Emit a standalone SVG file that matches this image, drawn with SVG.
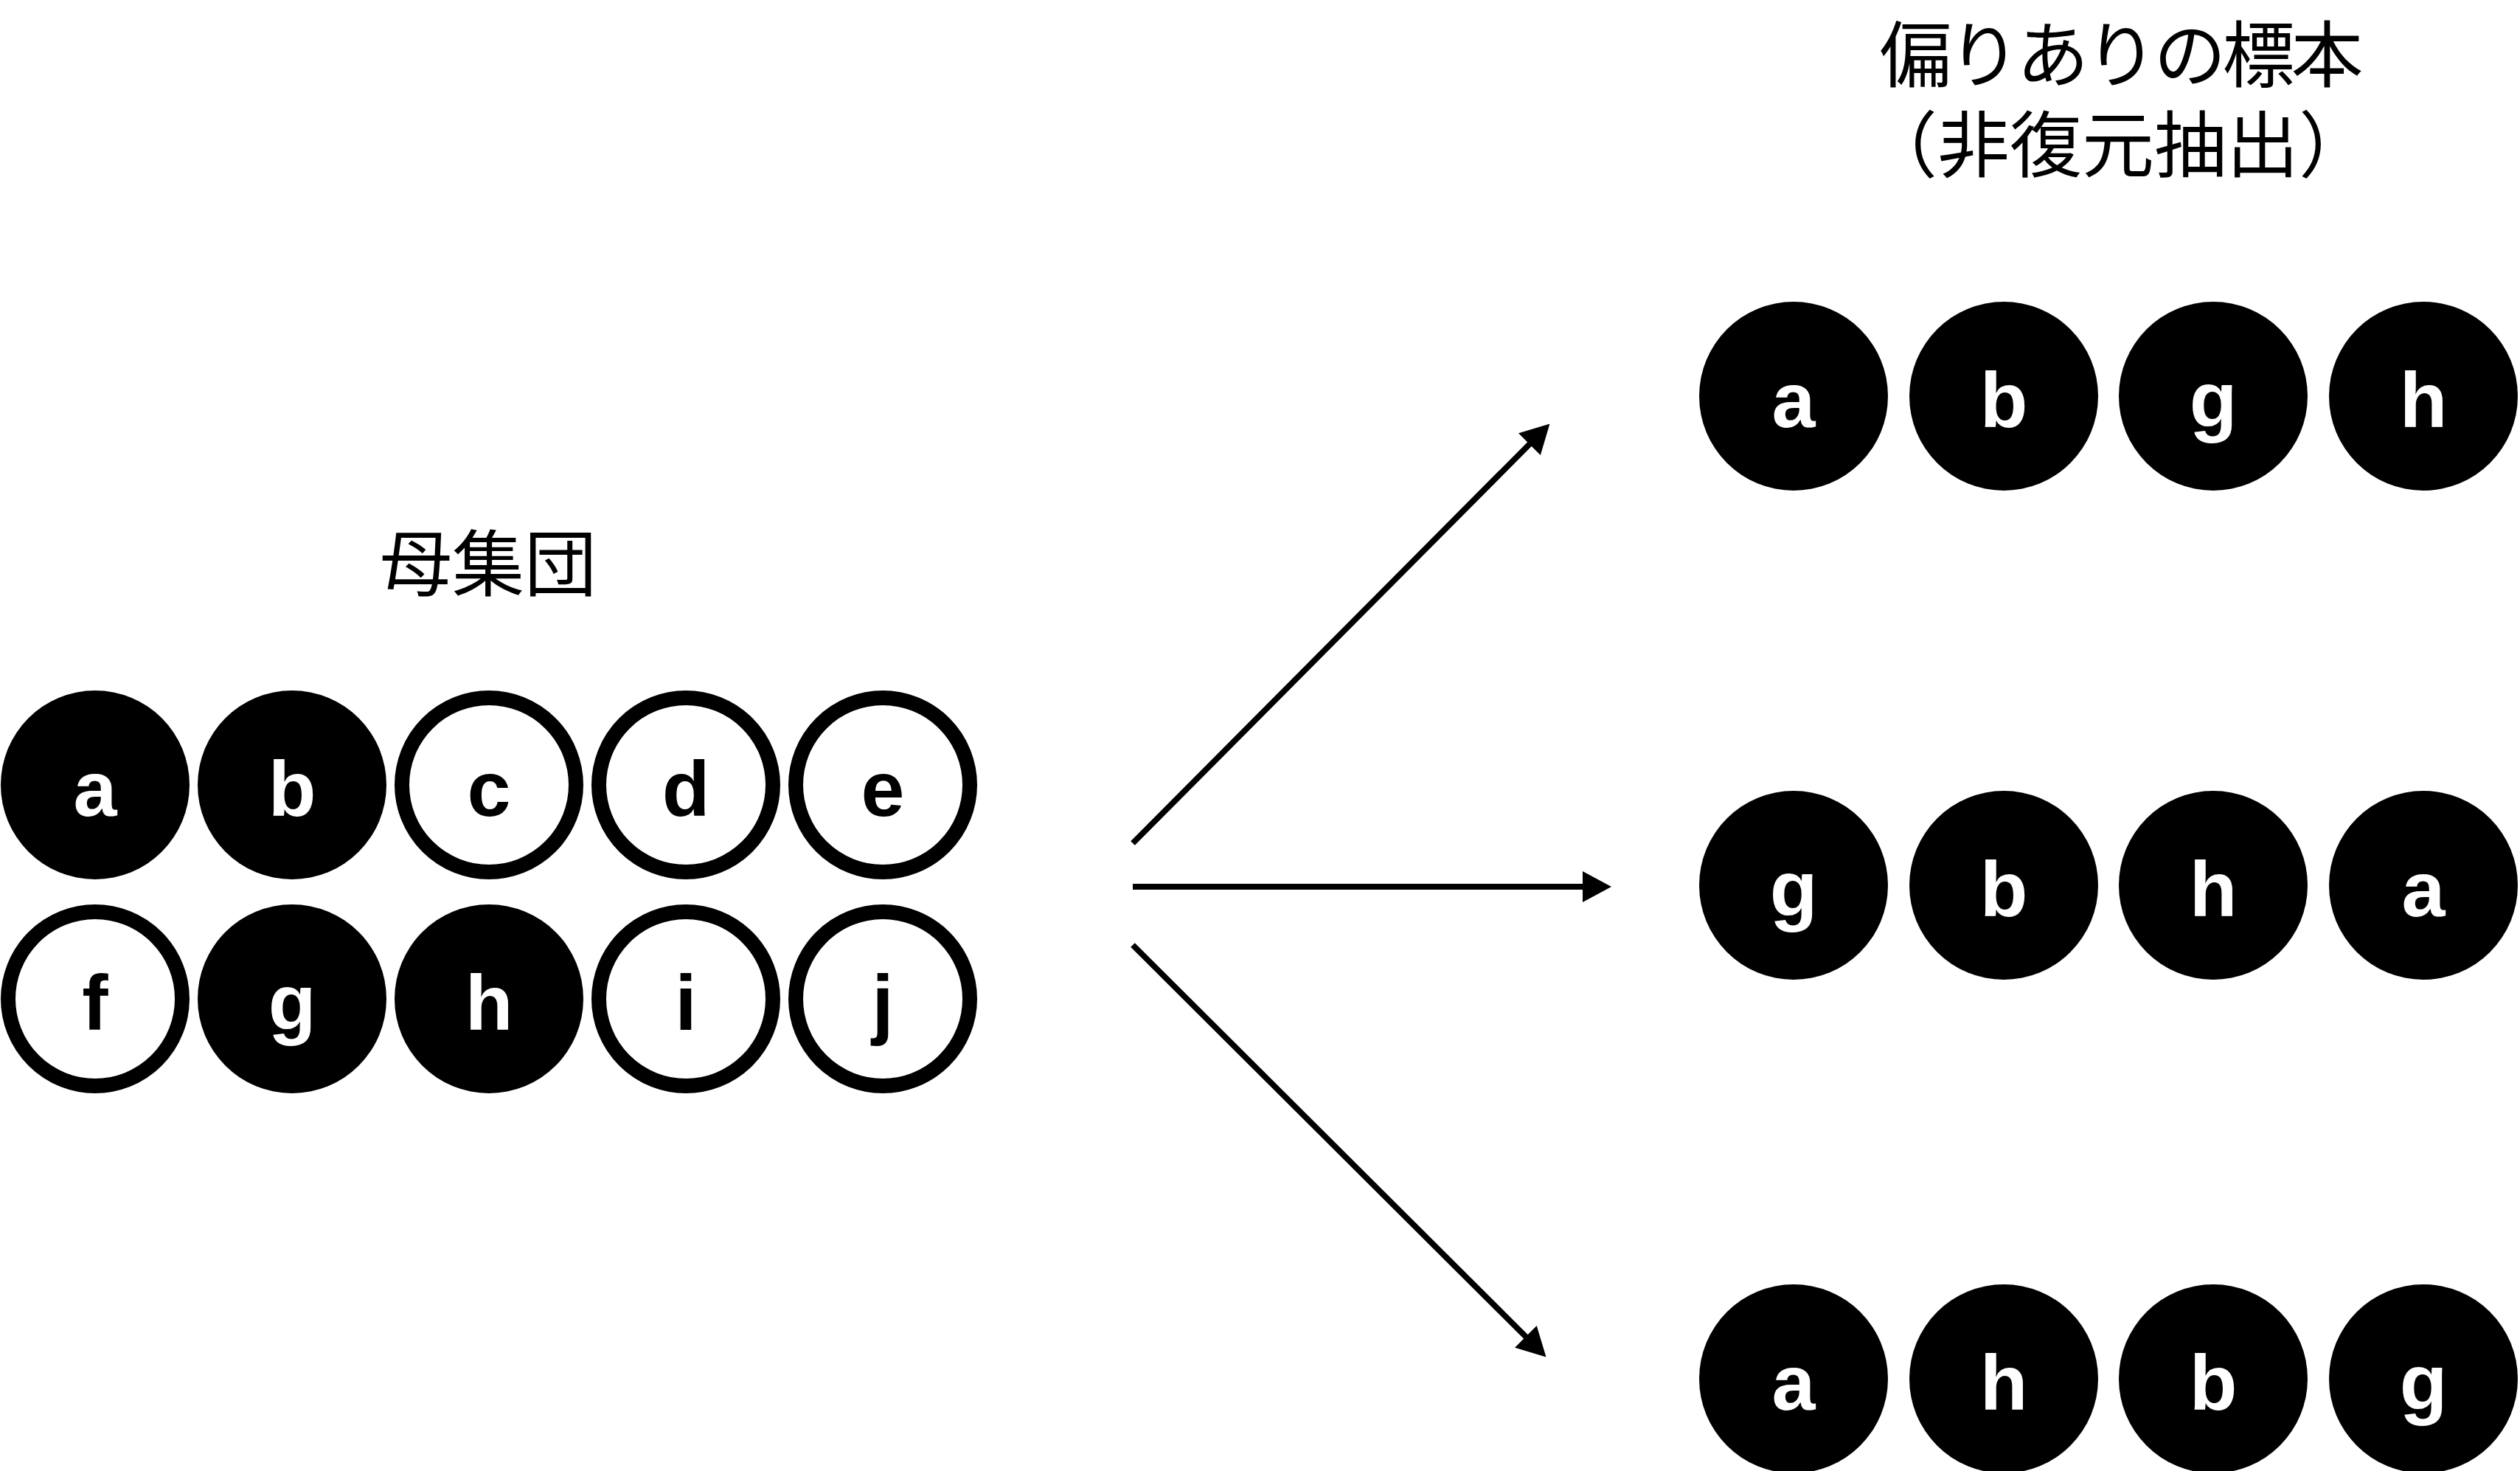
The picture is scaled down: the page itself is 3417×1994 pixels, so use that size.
<svg xmlns="http://www.w3.org/2000/svg" width="3417" height="1994" viewBox="0 0 3417 1994">
<defs>
<style>
.bg{fill:#fff}
.full{fill:#000}
.ring{fill:#fff;stroke:#000;stroke-width:20}
.lt{font-family:"Liberation Sans",Arial,sans-serif;font-weight:bold;font-size:106px;text-anchor:middle}
.w{fill:#fff}
.k{fill:#000}
.title{font-family:"Noto Sans CJK JP","Noto Sans CJK SC",sans-serif;font-size:98px;text-anchor:middle;fill:#000}
.tight{letter-spacing:-5px}
.conn{stroke:#000;stroke-width:8;fill:none;marker-end:url(#ah)}
</style>
<marker id="ah" viewBox="0 0 39 42" refX="20" refY="21" markerWidth="39" markerHeight="42" markerUnits="userSpaceOnUse" orient="auto">
<path d="M0,0 L39,21 L0,42 Z" fill="#000"/>
</marker>
</defs>
<rect class="bg" x="0" y="0" width="3417" height="1994"/>

<g id="title-population"><text class="title" x="662" y="800">母集団</text></g>
<g id="title-sample"><text class="title"><tspan class="tight" x="2874" y="110">偏りありの標本</tspan><tspan x="2872" y="232">（非復元抽出）</tspan></text></g>

<g id="population">
<g id="pop-a"><circle class="full" cx="129" cy="1064" r="128"/><text class="lt w" x="129" y="1106">a</text></g>
<g id="pop-b"><circle class="full" cx="396" cy="1064" r="128"/><text class="lt w" x="396" y="1106">b</text></g>
<g id="pop-c"><circle class="ring" cx="663" cy="1064" r="118"/><text class="lt k" x="663" y="1106">c</text></g>
<g id="pop-d"><circle class="ring" cx="930" cy="1064" r="118"/><text class="lt k" x="930" y="1106">d</text></g>
<g id="pop-e"><circle class="ring" cx="1197" cy="1064" r="118"/><text class="lt k" x="1197" y="1106">e</text></g>
<g id="pop-f"><circle class="ring" cx="129" cy="1354" r="118"/><text class="lt k" x="129" y="1396">f</text></g>
<g id="pop-g"><circle class="full" cx="396" cy="1354" r="128"/><text class="lt w" x="396" y="1396">g</text></g>
<g id="pop-h"><circle class="full" cx="663" cy="1354" r="128"/><text class="lt w" x="663" y="1396">h</text></g>
<g id="pop-i"><circle class="ring" cx="930" cy="1354" r="118"/><text class="lt k" x="930" y="1396">i</text></g>
<g id="pop-j"><circle class="ring" cx="1197" cy="1354" r="118"/><text class="lt k" x="1197" y="1396">j</text></g>
</g>

<g id="sample1">
<g id="s1-a"><circle class="full" cx="2432" cy="537" r="128"/><text class="lt w" x="2432" y="579">a</text></g>
<g id="s1-b"><circle class="full" cx="2717" cy="537" r="128"/><text class="lt w" x="2717" y="579">b</text></g>
<g id="s1-g"><circle class="full" cx="3001" cy="537" r="128"/><text class="lt w" x="3001" y="579">g</text></g>
<g id="s1-h"><circle class="full" cx="3286" cy="537" r="128"/><text class="lt w" x="3286" y="579">h</text></g>
</g>
<g id="sample2">
<g id="s2-g"><circle class="full" cx="2432" cy="1200" r="128"/><text class="lt w" x="2432" y="1242">g</text></g>
<g id="s2-b"><circle class="full" cx="2717" cy="1200" r="128"/><text class="lt w" x="2717" y="1242">b</text></g>
<g id="s2-h"><circle class="full" cx="3001" cy="1200" r="128"/><text class="lt w" x="3001" y="1242">h</text></g>
<g id="s2-a"><circle class="full" cx="3286" cy="1200" r="128"/><text class="lt w" x="3286" y="1242">a</text></g>
</g>
<g id="sample3">
<g id="s3-a"><circle class="full" cx="2432" cy="1869" r="128"/><text class="lt w" x="2432" y="1911">a</text></g>
<g id="s3-h"><circle class="full" cx="2717" cy="1869" r="128"/><text class="lt w" x="2717" y="1911">h</text></g>
<g id="s3-b"><circle class="full" cx="3001" cy="1869" r="128"/><text class="lt w" x="3001" y="1911">b</text></g>
<g id="s3-g"><circle class="full" cx="3286" cy="1869" r="128"/><text class="lt w" x="3286" y="1911">g</text></g>
</g>

<g id="connectors">
<line class="conn" x1="1536" y1="1143" x2="2088" y2="588"/>
<line class="conn" x1="1536" y1="1202" x2="2166" y2="1202"/>
<line class="conn" x1="1536" y1="1281" x2="2083" y2="1826"/>
</g>
</svg>
